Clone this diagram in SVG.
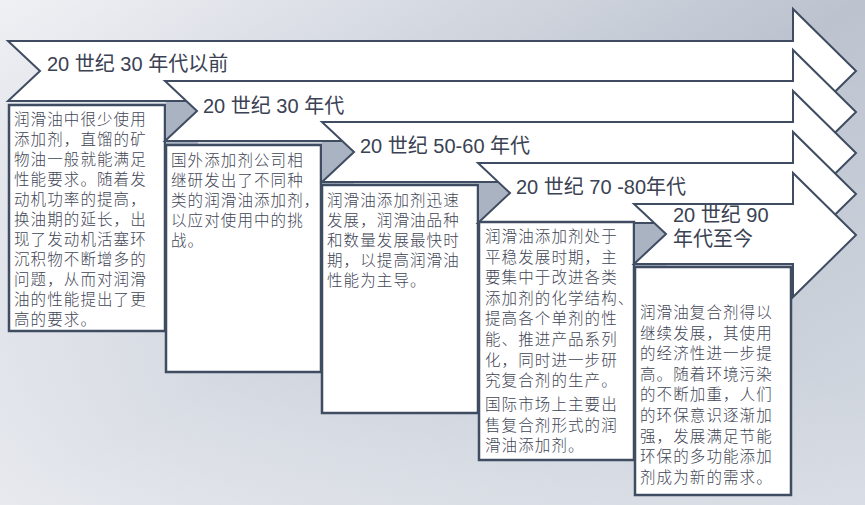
<svg xmlns="http://www.w3.org/2000/svg" width="865" height="505" viewBox="0 0 865 505">
<defs>
<linearGradient id="bg" x1="0" y1="0" x2="1" y2="1">
<stop offset="0" stop-color="#f0f1f5"/>
<stop offset="0.5" stop-color="#bcc3cf"/>
<stop offset="1" stop-color="#d6dbe3"/>
</linearGradient>
<linearGradient id="bg2" x1="0" y1="1" x2="0.6" y2="0.4">
<stop offset="0" stop-color="#eceef2" stop-opacity="0.9"/>
<stop offset="1" stop-color="#eceef2" stop-opacity="0"/>
</linearGradient>
</defs>
<style>
.ar{fill:#fff;stroke:#3f4c61;stroke-width:2;stroke-linejoin:miter}
.bx{fill:#fff;stroke:#3f4c61;stroke-width:2.5}
.gz{fill:#aab3c2}
.tt{font-family:"Liberation Sans","Noto Sans CJK SC",sans-serif;font-size:20px;fill:#3a4253}
.tx{font-family:"Noto Sans CJK SC",sans-serif;font-size:15.5px;letter-spacing:1.1px;font-weight:300;fill:#3f4656}
</style>
<rect width="865" height="505" fill="url(#bg)"/>
<rect width="865" height="505" fill="url(#bg2)"/>
<g id="stage1">
<polygon class="ar" points="8,41 793,41 793,9 856,71 793,133 793,101 8,101 40,71"/>
<text class="tt" x="47" y="71">20 世纪 30 年代以前</text>
<rect class="bx" x="9" y="105" width="156" height="226"/>
<g class="tx">
<text x="14" y="125">润滑油中很少使用</text>
<text x="14" y="145">添加剂，直馏的矿</text>
<text x="14" y="165">物油一般就能满足</text>
<text x="14" y="185">性能要求。随着发</text>
<text x="14" y="205">动机功率的提高，</text>
<text x="14" y="225">换油期的延长，出</text>
<text x="14" y="245">现了发动机活塞环</text>
<text x="14" y="265">沉积物不断增多的</text>
<text x="14" y="285">问题，从而对润滑</text>
<text x="14" y="305">油的性能提出了更</text>
<text x="14" y="325">高的要求。</text>
</g>
</g>
<g id="stage2">
<rect class="gz" x="166" y="102" width="32" height="42"/>
<polygon class="ar" points="165,81 793,81 793,50 856,112 793,174 793,141 165,141 197,111"/>
<text class="tt" x="203" y="113">20 世纪 30 年代</text>
<rect class="bx" x="166" y="145" width="155" height="227"/>
<g class="tx">
<text x="171" y="166">国外添加剂公司相</text>
<text x="171" y="186">继研发出了不同种</text>
<text x="171" y="206">类的润滑油添加剂，</text>
<text x="171" y="226">以应对使用中的挑</text>
<text x="171" y="246">战。</text>
</g>
</g>
<g id="stage3">
<rect class="gz" x="322" y="142" width="32" height="42"/>
<polygon class="ar" points="322,122 793,122 793,91 856,153 793,215 793,182 322,182 354,152"/>
<text class="tt" x="360" y="153">20 世纪 50-60 年代</text>
<rect class="bx" x="322" y="185" width="156" height="228"/>
<g class="tx">
<text x="327" y="206">润滑油添加剂迅速</text>
<text x="327" y="226">发展，润滑油品种</text>
<text x="327" y="246">和数量发展最快时</text>
<text x="327" y="266">期，以提高润滑油</text>
<text x="327" y="286">性能为主导。</text>
</g>
</g>
<g id="stage4">
<rect class="gz" x="479" y="183" width="32" height="40"/>
<polygon class="ar" points="478,163 793,163 793,132 856,194 793,256 793,223 478,223 510,193"/>
<text class="tt" x="516" y="194">20 世纪 70 -80年代</text>
<rect class="bx" x="479" y="222" width="155" height="238"/>
<g class="tx">
<text x="485" y="242">润滑油添加剂处于</text>
<text x="485" y="262.6">平稳发展时期，主</text>
<text x="485" y="283.2">要集中于改进各类</text>
<text x="485" y="303.8">添加剂的化学结构、</text>
<text x="485" y="324.4">提高各个单剂的性</text>
<text x="485" y="345">能、推进产品系列</text>
<text x="485" y="365.6">化，同时进一步研</text>
<text x="485" y="386.2">究复合剂的生产。</text>
<text x="485" y="410.2">国际市场上主要出</text>
<text x="485" y="430.8">售复合剂形式的润</text>
<text x="485" y="451.4">滑油添加剂。</text>
</g>
</g>
<g id="stage5">
<rect class="gz" x="635" y="224" width="32" height="42"/>
<polygon class="ar" points="634,204 793,204 793,173 856,235 793,297 793,264 634,264 666,234"/>
<text class="tt" x="673" y="222">20 世纪 90</text>
<text class="tt" x="673" y="246">年代至今</text>
<rect class="bx" x="635" y="267" width="156" height="228"/>
<g class="tx">
<text x="640" y="318">润滑油复合剂得以</text>
<text x="640" y="338.6">继续发展，其使用</text>
<text x="640" y="359.2">的经济性进一步提</text>
<text x="640" y="379.8">高。随着环境污染</text>
<text x="640" y="400.4">的不断加重，人们</text>
<text x="640" y="421">的环保意识逐渐加</text>
<text x="640" y="441.6">强，发展满足节能</text>
<text x="640" y="462.2">环保的多功能添加</text>
<text x="640" y="482.8">剂成为新的需求。</text>
</g>
</g>
<g id="connectors"></g>
</svg>
